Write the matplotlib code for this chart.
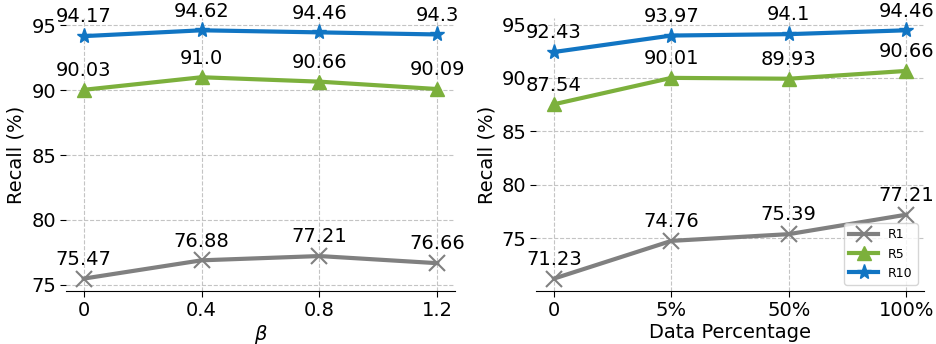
import matplotlib.pyplot as plt
import numpy as np

beta_labels = ["0", "0.4", "0.8", "1.2"]
beta_r1 = [75.47, 76.88, 77.21, 76.66]
beta_r5 = [90.03, 91.0, 90.66, 90.09]
beta_r10 = [94.17, 94.62, 94.46, 94.3]

data_labels = ["0", "5%", "50%", "100%"]
data_r1 = [71.23, 74.76, 75.39, 77.21]
data_r5 = [87.54, 90.01, 89.93, 90.66]
data_r10 = [92.43, 93.97, 94.1, 94.46]

series_names = ["R1", "R5", "R10"]
colors = ["#808080", "#7cb03c", "#1175c3"]
markers = ["x", "^", "*"]
msizes = [11, 10, 11]


def draw_panel(ax, labels, series, xlabel):
    x = np.arange(len(labels))
    for vals, name, c, m, ms in zip(series, series_names, colors, markers, msizes):
        ax.plot(x, vals, color=c, marker=m, markersize=ms, linewidth=3,
                markeredgewidth=1.5 if m == "x" else 1, label=name)
        for xi, v in zip(x, vals):
            ax.annotate(str(v), (xi, v), textcoords="offset points", xytext=(0, 7),
                        ha="center", va="bottom", fontsize=14)
    ax.set_xticks(x)
    ax.set_xticklabels(labels)
    ax.set_xlabel(xlabel, fontsize=14, labelpad=2)
    ax.set_ylabel("Recall (%)", fontsize=14)
    ax.tick_params(labelsize=14, length=4, pad=3)
    ax.grid(True, linestyle="--", color="#c4c4c4", linewidth=0.8)
    for side in ["top", "right", "left"]:
        ax.spines[side].set_visible(False)


fig = plt.figure(figsize=(9.36, 3.44), dpi=100)
ax1 = fig.add_axes([0.0705, 0.154, 0.4155, 0.794])
ax2 = fig.add_axes([0.573, 0.154, 0.414, 0.794])
draw_panel(ax1, beta_labels, [beta_r1, beta_r5, beta_r10], r"$\beta$")
draw_panel(ax2, data_labels, [data_r1, data_r5, data_r10], "Data Percentage")
ax2.legend(loc="lower right", fontsize=9, handlelength=2.3)

fig.savefig("out.png", dpi=100)
